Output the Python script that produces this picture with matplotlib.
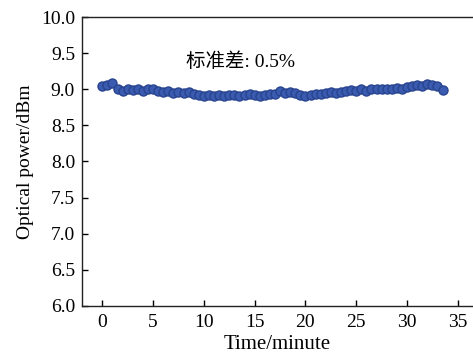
import matplotlib
matplotlib.use("Agg")
import matplotlib.pyplot as plt
import numpy as np

# optical power readings, one every half minute
time_min = np.arange(0, 34.0, 0.5)
power_dbm = [
    9.04, 9.06, 9.08, 9.00, 8.98, 9.00, 8.99, 9.00, 8.98, 9.00,
    9.00, 8.98, 8.96, 8.97, 8.95, 8.96, 8.95, 8.96, 8.93, 8.92,
    8.91, 8.92, 8.91, 8.92, 8.91, 8.92, 8.92, 8.91, 8.92, 8.93,
    8.92, 8.91, 8.92, 8.93, 8.94, 8.97, 8.95, 8.96, 8.95, 8.92,
    8.90, 8.92, 8.94, 8.93, 8.95, 8.96, 8.95, 8.96, 8.97, 8.99,
    8.97, 9.00, 8.98, 9.00, 9.01, 9.00, 9.00, 9.01, 9.02, 9.01,
    9.03, 9.05, 9.06, 9.05, 9.07, 9.06, 9.05, 8.99,
]
x_ticks = [0, 5, 10, 15, 20, 25, 30, 35]
y_ticks = [6.0, 6.5, 7.0, 7.5, 8.0, 8.5, 9.0, 9.5, 10.0]

plt.rcParams["font.family"] = ["Liberation Serif", "Noto Sans CJK SC"]
plt.rcParams["font.size"] = 14

fig = plt.figure(figsize=(4.73, 3.61), dpi=100)
ax = fig.add_axes([0.1734, 0.1524, 0.8266, 0.8005])

ax.plot(time_min, power_dbm, "o", ms=6.5, mfc="#3a5bb0", mec="#28448f",
        mew=1.0)

ax.set_xlim(-2, 36.5)
ax.set_ylim(6.0, 10.0)
ax.set_xticks(x_ticks)
ax.set_yticks(y_ticks)
ax.set_yticklabels([f"{v:.1f}" for v in y_ticks])

ax.spines["right"].set_visible(False)
for side in ("left", "bottom", "top"):
    ax.spines[side].set_linewidth(1.0)
    ax.spines[side].set_color("#222222")

ax.tick_params(axis="x", direction="in", length=4, width=1, pad=6,
               top=False)
ax.tick_params(axis="y", direction="in", length=4, width=1, pad=5,
               right=False)

ax.set_xlabel("Time/minute", fontsize=15, labelpad=3)
ax.set_ylabel("Optical power/dBm", labelpad=5)

ax.text(8.2, 9.38, "标准差: 0.5%", va="center", ha="left", fontsize=14)

fig.savefig("out.png", dpi=100)
